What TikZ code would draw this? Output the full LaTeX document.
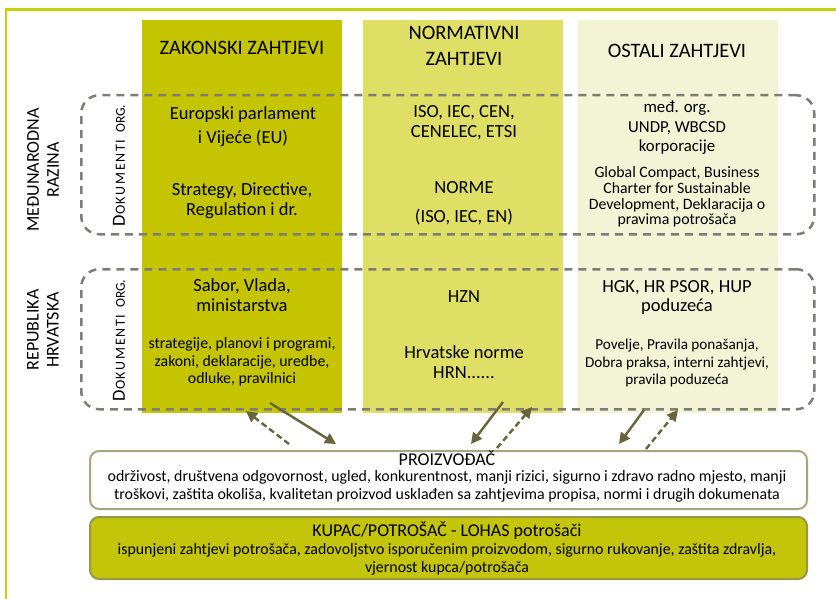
\documentclass[tikz,border=0pt]{standalone}
\usepackage{fontspec}
\setmainfont{Carlito}
\usetikzlibrary{arrows.meta}
\definecolor{framec}{RGB}{200,210,0}
\definecolor{colA}{RGB}{197,196,0}
\definecolor{colB}{RGB}{223,223,102}
\definecolor{colC}{RGB}{243,244,214}
\definecolor{dashgray}{RGB}{125,125,118}
\definecolor{arrcol}{RGB}{105,100,60}
\definecolor{pborder}{RGB}{165,168,125}
\definecolor{kfill}{RGB}{196,196,10}
\definecolor{kborder}{RGB}{150,150,70}
\tikzset{
  colbox/.style={draw=none, inner sep=0pt, anchor=north west},
  hdr/.style={font=\fontsize{20.5}{24}\selectfont, align=center, inner sep=0pt},
  bigtxt/.style={font=\fontsize{18.5}{20}\selectfont, align=center, inner sep=0pt},
  midtxt/.style={font=\fontsize{16.8}{19.5}\selectfont, align=center, inner sep=0pt},
  smalltxt/.style={font=\fontsize{15.2}{17.5}\selectfont, align=center, inner sep=0pt},
  sidetxt/.style={font=\fontsize{18}{20}\selectfont, align=center, inner sep=0pt, rotate=90},
  doktxt/.style={inner sep=0pt, rotate=90},
  dbox/.style={draw=dashgray, line width=2.5pt, dash pattern=on 8pt off 6pt, rounded corners=18pt, inner sep=0pt, anchor=north west},
  solidarr/.style={draw=arrcol, line width=2.4pt, -{Triangle[length=11pt,width=11pt]}},
  dasharr/.style={solidarr, dash pattern=on 6pt off 3.5pt},
  pbox/.style={draw=pborder, fill=white, line width=2pt, rounded corners=9pt, inner sep=0pt, anchor=north west},
  kbox/.style={draw=kborder, fill=kfill, line width=2pt, rounded corners=9pt, inner sep=0pt, anchor=north west},
  btxt/.style={font=\fontsize{15.9}{17.8}\selectfont, align=center, inner sep=0pt},
  btitle/.style={font=\fontsize{18}{20}\selectfont, align=center, inner sep=0pt},
}
\newcommand{\dokorg}{{\fontsize{18.5}{18}\selectfont D}{\fontsize{14}{14}\selectfont\addfontfeature{LetterSpace=12}OKUMENTI}\hspace{7pt}{\fontsize{13.5}{14}\selectfont ORG.}}
\begin{document}
\begin{tikzpicture}[x=1pt,y=-1pt]
\useasboundingbox (0,0) rectangle (836,599);
% frame
\draw[framec, line width=2.5pt] (6,599) -- (6,9.5) -- (836,9.5);
% columns
\node[colbox, fill=colA, minimum width=200pt, minimum height=393pt] (colzak) at (142,20) {};
\node[colbox, fill=colB, minimum width=200pt, minimum height=393pt] (colnorm) at (363,20) {};
\node[colbox, fill=colC, minimum width=200pt, minimum height=393pt] (colost) at (578,20) {};
% dashed level boxes
\node[dbox, minimum width=733pt, minimum height=139pt] (levint) at (80,94) {};
\node[dbox, minimum width=733pt, minimum height=140pt] (levhr) at (80,268) {};
% headers
\node[hdr] (h1) at (242,48) {ZAKONSKI ZAHTJEVI};
\node[hdr] (h2) at (464,46) {NORMATIVNI\\[2pt]ZAHTJEVI};
\node[hdr] (h3) at (677,51) {OSTALI ZAHTJEVI};
% side labels
\node[sidetxt] (lint) at (43,170) {MEĐUNARODNA\\RAZINA};
\node[sidetxt] (lhr) at (43,330) {REPUBLIKA\\HRVATSKA};
\node[doktxt] (dint) at (119,165.5) {\dokorg};
\node[doktxt] (dhr) at (119,340.5) {\dokorg};
% column 1
\node[bigtxt] (z1) at (243,127) {Europski parlament\\[4pt]i Vijeće (EU)};
\node[bigtxt] (z2) at (242,201) {Strategy, Directive,\\Regulation i dr.};
\node[bigtxt] (z3) at (242,295) {Sabor, Vlada,\\ministarstva};
\node[smalltxt, font=\fontsize{15.8}{17.5}\selectfont] (z4) at (242,362) {strategije, planovi i programi,\\zakoni, deklaracije, uredbe,\\odluke, pravilnici};
% column 2
\node[bigtxt] (n1) at (464,123) {ISO, IEC, CEN,\\CENELEC, ETSI};
\node[bigtxt] (n2) at (464,188) {NORME};
\node[bigtxt] (n3) at (464,217) {(ISO, IEC, EN)};
\node[bigtxt] (n4) at (464,297) {HZN};
\node[bigtxt] (n5) at (464,362) {Hrvatske norme\\HRN......};
% column 3
\node[midtxt] (o1) at (677,128) {međ. org.\\UNDP, WBCSD\\korporacije};
\node[smalltxt, font=\fontsize{15.8}{15.8}\selectfont] (o2) at (677,197) {Global Compact, Business\\Charter for Sustainable\\Development, Deklaracija o\\pravima potrošača};
\node[bigtxt, font=\fontsize{18.5}{19}\selectfont] (o3) at (677,297.5) {HGK, HR PSOR, HUP\\poduzeća};
\node[smalltxt] (o4) at (677,363) {Povelje, Pravila ponašanja,\\Dobra praksa, interni zahtjevi,\\pravila poduzeća};
% bottom boxes
\node[pbox, minimum width=717pt, minimum height=58pt] (proiz) at (89,450) {};
\node[kbox, minimum width=717pt, minimum height=62pt] (kupac) at (89,516) {};
\node[btitle] (pt) at (447,458) {PROIZVOĐAČ};
\node[btxt] (pd) at (447,486) {održivost, društvena odgovornost, ugled, konkurentnost, manji rizici, sigurno i zdravo radno mjesto, manji\\troškovi, zaštita okoliša, kvalitetan proizvod usklađen sa zahtjevima propisa, normi i drugih dokumenata};
\node[btitle] (kt) at (447,531) {KUPAC/POTROŠAČ - LOHAS potrošači};
\node[btxt] (kd) at (447,559) {ispunjeni zahtjevi potrošača, zadovoljstvo isporučenim proizvodom, sigurno rukovanje, zaštita zdravlja,\\vjernost kupca/potrošača};
% arrow end points
\coordinate (a1s) at (270,403); \coordinate (a1e) at (336,444);
\coordinate (b1s) at (289,444); \coordinate (b1e) at (246,411);
\coordinate (a2s) at (503,402); \coordinate (a2e) at (471,444);
\coordinate (b2s) at (497,448); \coordinate (b2e) at (532,407);
\coordinate (a3s) at (644,410); \coordinate (a3e) at (619,444);
\coordinate (b3s) at (646,449); \coordinate (b3e) at (678,410);
\draw[solidarr] (a1s) -- (a1e);
\draw[dasharr] (b1s) -- (b1e);
\draw[solidarr] (a2s) -- (a2e);
\draw[dasharr] (b2s) -- (b2e);
\draw[solidarr] (a3s) -- (a3e);
\draw[dasharr] (b3s) -- (b3e);
\end{tikzpicture}
\end{document}
